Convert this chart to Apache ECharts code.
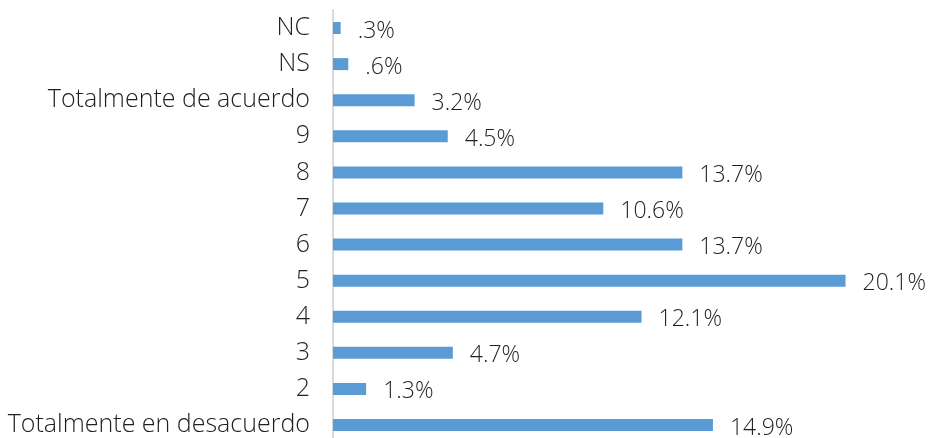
<!DOCTYPE html>
<html>
<head>
<meta charset="utf-8">
<script src="https://cdn.jsdelivr.net/npm/echarts@6/dist/echarts.min.js"></script>
<style>
  html, body { margin: 0; padding: 0; background: #fff; overflow: hidden; }
  #chart { width: 932px; height: 444px; }
</style>
</head>
<body>
<div id="chart"></div>
<script>
// categories from bottom to top, as the axis draws them
var categories = ['Totalmente en desacuerdo', '2', '3', '4', '5', '6', '7', '8', '9',
  'Totalmente de acuerdo', 'NS', 'NC'];
var percentages = [14.9, 1.3, 4.7, 12.1, 20.1, 13.7, 10.6, 13.7, 4.5, 3.2, 0.6, 0.3];

var chart = echarts.init(document.getElementById('chart'), null, { renderer: 'canvas' });

var option = {
  backgroundColor: '#ffffff',
  animation: false,
  grid: {
    left: 333,
    top: 10,
    width: 561,
    height: 433,
    containLabel: false
  },
  xAxis: {
    type: 'value',
    min: 0,
    max: 22,
    show: false
  },
  yAxis: {
    type: 'category',
    data: categories,
    axisLine: { show: true, lineStyle: { color: '#d9d9d9', width: 2 } },
    axisTick: { show: false },
    axisLabel: {
      color: '#1f1f1f',
      fontFamily: 'Open Sans',
      fontWeight: 300,
      fontSize: 25,
      margin: 23
    }
  },
  series: [{
    type: 'bar',
    data: percentages,
    barWidth: 12,
    itemStyle: { color: '#5b9bd5' },
    label: {
      show: true,
      position: 'right',
      distance: 17,
      color: '#1f1f1f',
      fontFamily: 'Open Sans',
      fontWeight: 300,
      fontSize: 23,
      offset: [0, 3],
      formatter: function (p) {
        return p.value.toFixed(1).replace(/^0/, '') + '%';
      }
    }
  }]
};

chart.setOption(option);
</script>
</body>
</html>
